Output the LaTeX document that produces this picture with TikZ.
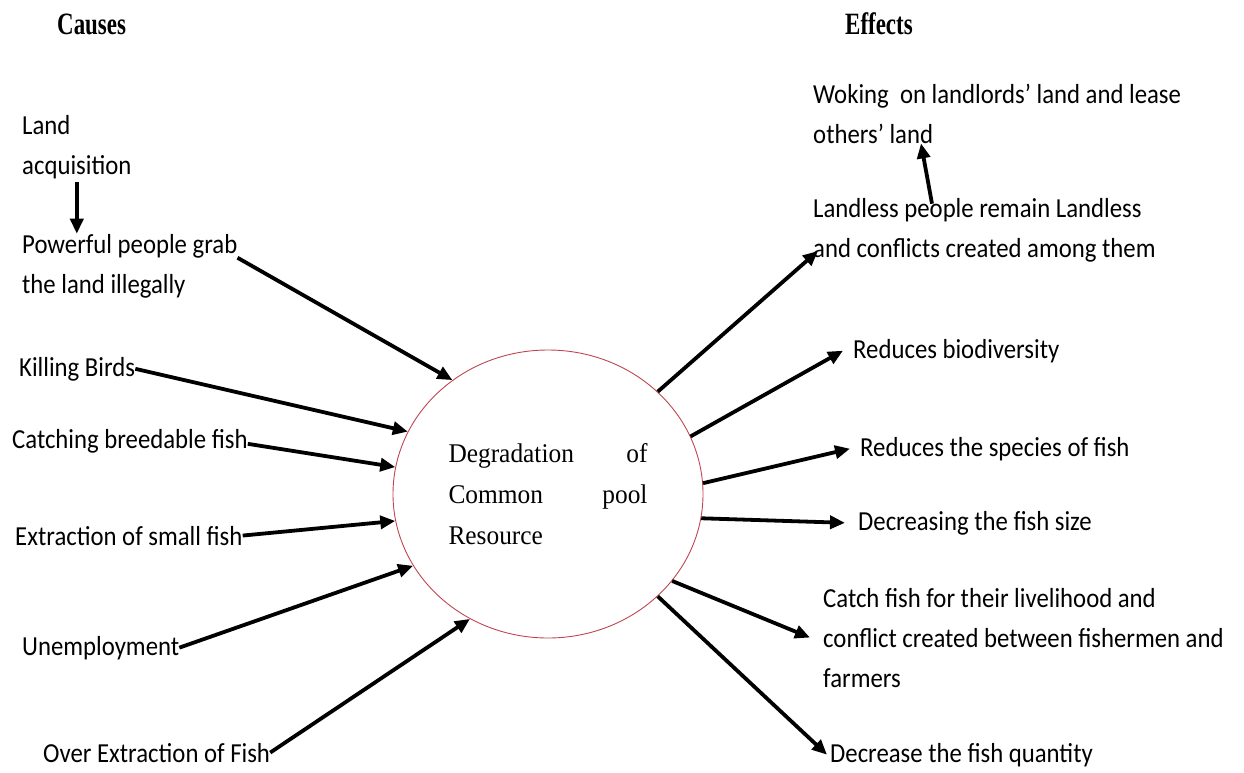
\documentclass[tikz,border=0pt]{standalone}
\usepackage{fontspec}
\usetikzlibrary{arrows.meta,shapes.geometric}
\newfontfamily\calib[FakeStretch=0.9]{Carlito}
\newfontfamily\tnr[FakeStretch=0.94]{Liberation Serif}
\newfontfamily\tnrhead[FakeStretch=0.74]{Liberation Serif}
\definecolor{rimred}{RGB}{190,70,80}
\begin{document}
\begin{tikzpicture}[x=1pt,y=-1pt,
  lbl/.style={inner sep=0pt,anchor=base west,align=left,font=\calib\fontsize{27.5}{40}\selectfont},
  head/.style={inner sep=0pt,anchor=base west,font=\tnrhead\bfseries\fontsize{31}{34}\selectfont},
  arr/.style={-{Triangle[length=15pt,width=13pt]},line width=3.8pt}]
  \useasboundingbox (0,0) rectangle (1244,772);
  \node[head] (causes) at (57,34) {Causes};
  \node[head] (effects) at (845,34) {Effects};
  \node[ellipse,draw=rimred,line width=0.9pt,minimum width=310pt,minimum height=288pt,
    text width=199pt,align=left,font=\tnr\fontsize{27}{41}\selectfont] (cpr) at (548,494)
    {Degradation\hfill of\\Common\hfill pool\\Resource};
  % causes
  \node[lbl] (land) at (22,174) {Land\\acquisition};
  \node[lbl] (pow) at (22,293) {Powerful people grab\\the land illegally};
  \node[lbl] (kill) at (19,376) {Killing Birds};
  \node[lbl] (catch) at (12,448) {Catching breedable fish};
  \node[lbl] (small) at (15,545) {Extraction of small fish};
  \node[lbl] (unemp) at (22,655) {Unemployment};
  \node[lbl] (over) at (43,762) {Over Extraction of Fish};
  % effects
  \node[lbl] (wok) at (813,143) {Woking~ on landlords’ land and lease\\others’ land};
  \node[lbl] (lls) at (813,257) {Landless people remain Landless\\and conflicts created among them};
  \node[lbl] (bio) at (853,358) {Reduces biodiversity};
  \node[lbl] (spc) at (860,456) {Reduces the species of fish};
  \node[lbl] (siz) at (858,530) {Decreasing the fish size};
  \node[lbl] (cat) at (823,687) {Catch fish for their livelihood and\\conflict created between fishermen and\\farmers};
  \node[lbl] (qty) at (830,762) {Decrease the fish quantity};
  \draw[arr] ([yshift=-3pt]land.south) -- (land.south |- pow.north);
  \draw[arr] ([yshift=-24pt]pow.north east) -- (cpr.130);
  \draw[arr] (kill.east) -- (cpr.156);
  \draw[arr] ([yshift=-3pt]catch.east) -- (cpr.170);
  \draw[arr] (small.east) -- (cpr.190);
  \draw[arr] (unemp.east) -- (cpr.208);
  \draw[arr] (over.east) -- (cpr.238);
  \draw[arr] (cpr.43) -- ([xshift=5pt,yshift=11pt]lls.south west);
  \draw[arr] ([xshift=119pt,yshift=-6pt]lls.north west) -- ([xshift=108pt]wok.south west);
  \draw[arr] (cpr.22) -- ([xshift=-10pt]bio.west);
  \draw[arr] (cpr.4) -- ([xshift=-10pt]spc.west);
  \draw[arr] (cpr.-9) -- ([xshift=-13pt]siz.west);
  \draw[arr] (cpr.-35) -- ([xshift=-13pt]cat.west);
  \draw[arr] (cpr.-43) -- ([xshift=-3pt]qty.west);
\end{tikzpicture}
\end{document}
